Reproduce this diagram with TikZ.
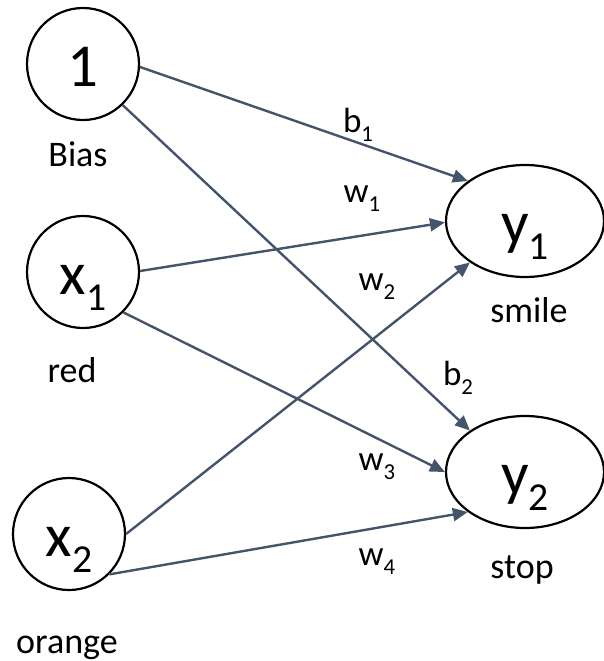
\documentclass[tikz,border=0pt]{standalone}
\usepackage{fontspec}
\setmainfont{Carlito}
\usetikzlibrary{arrows.meta,shapes.geometric}
\definecolor{arrowc}{HTML}{44546A}
\newcommand\mysub[1]{\raisebox{-0.27em}{\scalebox{0.65}{#1}}}
\begin{document}
\begin{tikzpicture}[x=1pt,y=-1pt,
 neuron/.style={circle,draw,line width=2.2pt,minimum size=112pt,inner sep=0pt,text height=44pt,text depth=0pt,font=\fontsize{61}{72}\selectfont},
 outn/.style={ellipse,draw,line width=2.2pt,minimum width=158pt,minimum height=112pt,inner sep=0pt,text height=44pt,text depth=0pt,font=\fontsize{61}{72}\selectfont},
 lbl/.style={anchor=base,inner sep=0pt,font=\fontsize{36}{43}\selectfont},
 wlbl/.style={anchor=base,inner sep=0pt,font=\fontsize{35}{42}\selectfont},
 conn/.style={draw=arrowc,line width=2.4pt,-{Triangle[length=15pt,width=13pt]}}]
\useasboundingbox (0,0) rectangle (604,661);
\node[neuron] (one) at (83,64) {1};
\node[neuron] (x1) at (83,272) {x\mysub{1}};
\node[neuron] (x2) at (69,534) {x\mysub{2}};
\node[outn] (y1) at (525,221) {y\mysub{1}};
\node[outn] (y2) at (525,472) {y\mysub{2}};
\node[lbl] (lbias) at (78,166) {Bias};
\node[lbl] (lred) at (72,382) {red};
\node[lbl] (lorange) at (67,653) {orange};
\node[lbl] (lsmile) at (529,322) {smile};
\node[lbl] (lstop) at (522,578) {stop};
\draw[conn] (one.-3) -- (y1.145);
\draw[conn] (one.-46) -- (y2.143);
\draw[conn] (x1.1) -- (y1.181);
\draw[conn] (x1.-45) -- (y2.west);
\draw[conn] (x2.east) -- (y1.217);
\draw[conn] (x2.-45) -- (y2.215);
\node[wlbl] (lb1) at (358,132) {b\mysub{1}};
\node[wlbl] (lw1) at (362,202) {w\mysub{1}};
\node[wlbl] (lw2) at (377,290) {w\mysub{2}};
\node[wlbl] (lb2) at (458,385) {b\mysub{2}};
\node[wlbl] (lw3) at (377,470) {w\mysub{3}};
\node[wlbl] (lw4) at (377,565) {w\mysub{4}};
\end{tikzpicture}
\end{document}
